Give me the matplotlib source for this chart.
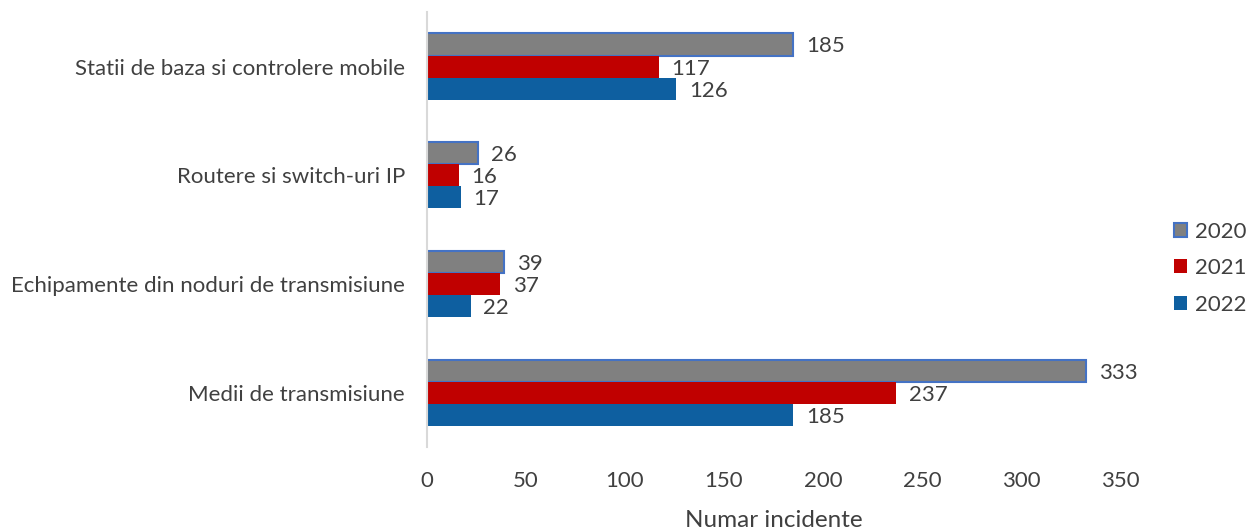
import matplotlib.pyplot as plt
import numpy as np

plt.rcParams['font.family'] = ['Lato', 'DejaVu Sans']

categories = [
    "Statii de baza si controlere mobile",
    "Routere si switch-uri IP",
    "Echipamente din noduri de transmisiune",
    "Medii de transmisiune",
]
years = ["2020", "2021", "2022"]
values_2020 = [185, 26, 39, 333]
values_2021 = [117, 16, 37, 237]
values_2022 = [126, 17, 22, 185]
x_ticks = [0, 50, 100, 150, 200, 250, 300, 350]

series = [values_2020, values_2021, values_2022]
face_colors = ["#808080", "#C00000", "#0E5FA0"]
edge_colors = ["#4472C4", "#C00000", "#0E5FA0"]
text_color = "#404040"
fs = 16

fig = plt.figure(figsize=(12.5, 5.3), dpi=100)
ax = fig.add_axes([0.3416, 0.1566, 0.896 - 0.3416, 0.977 - 0.1566])

n = len(categories)
pos = np.arange(n)[::-1]  # first category at top
bar_h = 0.203
shifts = [bar_h, 0.0, -bar_h]

for vals, fc, ec, sh in zip(series, face_colors, edge_colors, shifts):
    lw = 1.5 if ec != fc else 0
    bars = ax.barh(pos + sh, vals, height=bar_h, color=fc, edgecolor=ec, linewidth=lw)
    for b, v in zip(bars, vals):
        ax.annotate(str(v), xy=(b.get_width(), b.get_y() + b.get_height() / 2),
                    xytext=(9, 0), textcoords="offset points",
                    va="center_baseline", ha="left", fontsize=fs, color=text_color)

ax.set_xlim(0, 350)
ax.set_ylim(-0.5, n - 0.5)
ax.set_xticks(x_ticks)
ax.set_yticks(pos)
ax.set_yticklabels(categories)
ax.tick_params(axis="both", length=0, labelsize=fs, labelcolor=text_color)
ax.tick_params(axis="x", pad=17)
ax.tick_params(axis="y", pad=16)
for s in ["top", "right", "bottom"]:
    ax.spines[s].set_visible(False)
ax.spines["left"].set_color("#D9D9D9")
ax.spines["left"].set_linewidth(1.5)
ax.set_xlabel("Numar incidente", fontsize=17.5, color=text_color, labelpad=14)

handles = [plt.Rectangle((0, 0), 1, 1, facecolor=fc, edgecolor=ec, linewidth=1.5 if ec != fc else 0)
           for fc, ec in zip(face_colors, edge_colors)]
fig.legend(handles, years, loc="center right", bbox_to_anchor=(0.997, 0.494),
           frameon=False, fontsize=fs, labelcolor=text_color, borderpad=0, borderaxespad=0,
           handlelength=0.6, handleheight=0.6, handletextpad=0.35, labelspacing=0.75)

fig.savefig("out.png", dpi=100, facecolor="white")
